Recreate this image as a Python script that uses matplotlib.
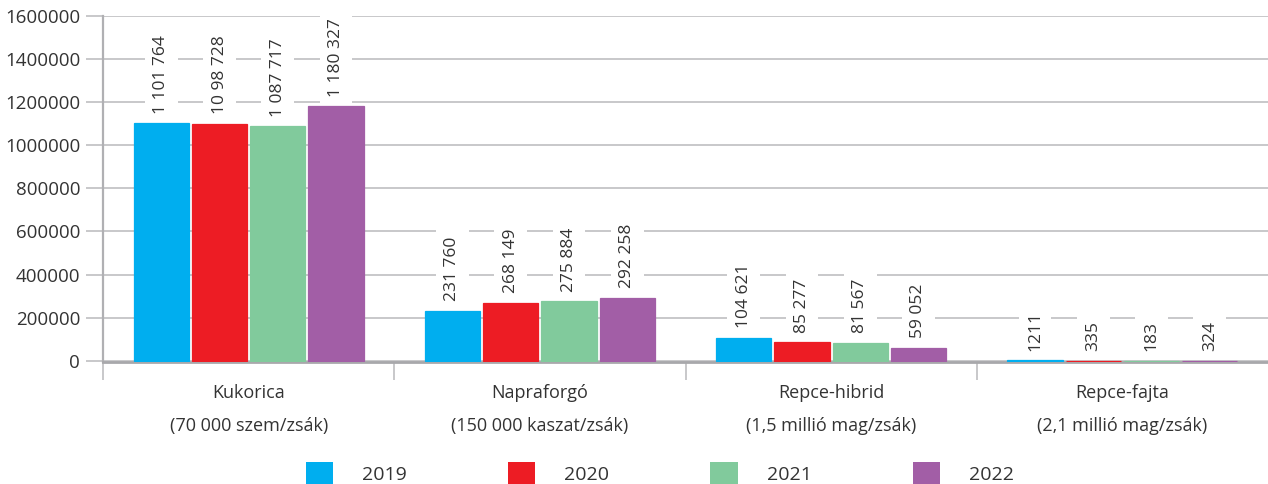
import numpy as np
import matplotlib
matplotlib.use("Agg")
import matplotlib.pyplot as plt
from matplotlib.patches import Patch

plt.rcParams['font.family'] = ['Open Sans', 'DejaVu Sans']

# data
categories = ["Kukorica\n(70 000 szem/zsák)", "Napraforgó\n(150 000 kaszat/zsák)",
              "Repce-hibrid\n(1,5 millió mag/zsák)", "Repce-fajta\n(2,1 millió mag/zsák)"]
years = ["2019", "2020", "2021", "2022"]
v2019 = [1101764, 231760, 104621, 1211]
v2020 = [1098728, 268149, 85277, 335]
v2021 = [1087717, 275884, 81567, 183]
v2022 = [1180327, 292258, 59052, 324]
labels2019 = ["1 101 764", "231 760", "104 621", "1211"]
labels2020 = ["10 98 728", "268 149", "85 277", "335"]
labels2021 = ["1 087 717", "275 884", "81 567", "183"]
labels2022 = ["1 180 327", "292 258", "59 052", "324"]
yticks = [0, 200000, 400000, 600000, 800000, 1000000, 1200000, 1400000, 1600000]

colors = ["#00AEEF", "#ED1C24", "#81CA9C", "#A25EA6"]
text_color = "#333333"
grid_color = "#c4c4c6"

series = [v2019, v2020, v2021, v2022]
series_labels = [labels2019, labels2020, labels2021, labels2022]

fig = plt.figure(figsize=(12.68, 4.84), dpi=100)
ax = fig.add_axes([103 / 1268, 1 - 362 / 484, 1 - 103 / 1268, (362 - 16) / 484])

x = np.arange(len(categories))
width = 0.19
offsets = [-0.3, -0.1, 0.1, 0.3]

for vals, labs, off, col, yr in zip(series, series_labels, offsets, colors, years):
    bars = ax.bar(x + off, vals, width, color=col, edgecolor=col, linewidth=0.9,
                  label=yr, zorder=6)
    for b, lab in zip(bars, labs):
        ax.annotate(lab, (b.get_x() + b.get_width() / 2, b.get_height()),
                    xytext=(0, 7), textcoords="offset points",
                    rotation=90, ha="center", va="bottom", fontsize=12.5,
                    color=text_color, zorder=7,
                    bbox=dict(facecolor="white", edgecolor="none", pad=6))

ax.set_xlim(-0.5, 3.5)
ax.set_ylim(-6000, 1600000)

# y axis
ax.set_yticks(yticks)
ax.set_yticklabels([str(t) for t in yticks])
ax.yaxis.grid(True, color=grid_color, linewidth=1.3, zorder=0)
ax.tick_params(axis="y", length=12.5, width=1.3, color=grid_color, pad=4,
               labelsize=13.5, labelcolor=text_color)

# x axis: boundary ticks and centered category labels
ax.set_xticks([-0.5, 0.5, 1.5, 2.5])
ax.set_xticklabels([])
ax.tick_params(axis="x", which="major", length=13, width=1.3, color=grid_color)
ax.set_xticks(x, minor=True)
ax.set_xticklabels(categories, minor=True, linespacing=2.05)
ax.tick_params(axis="x", which="minor", length=0, pad=16, labelsize=13,
               labelcolor=text_color)

for s in ["top", "right"]:
    ax.spines[s].set_visible(False)
ax.spines["left"].set_color("#b0b0b3")
ax.spines["left"].set_linewidth(1.6)
ax.spines["bottom"].set_color("#a8a8ab")
ax.spines["bottom"].set_linewidth(2)
ax.spines["bottom"].set_zorder(5)

handles = [Patch(facecolor=c, edgecolor="none") for c in colors]
fig.legend(handles, years, loc="upper center", bbox_to_anchor=(660 / 1268, 1 - 462 / 484),
           ncol=4, frameon=False, fontsize=14, handlelength=1.39, handleheight=1.39,
           handletextpad=1.5, columnspacing=5.2, labelcolor=text_color,
           borderaxespad=0, borderpad=0)

fig.savefig("out.png", dpi=100)
